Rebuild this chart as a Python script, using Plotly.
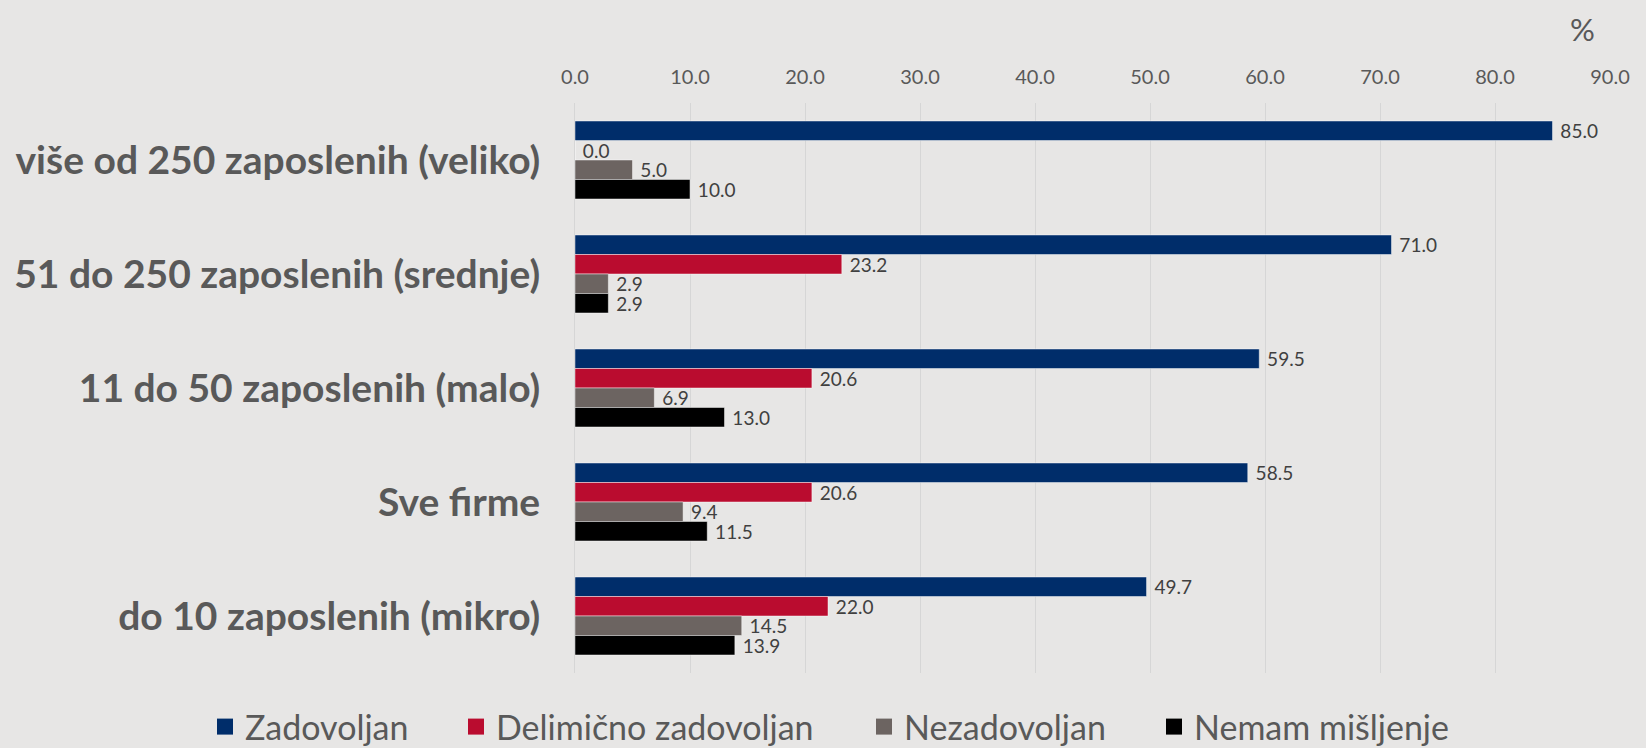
import plotly.graph_objects as go

# Company size groups, listed top to bottom
categories = [
    "više od 250 zaposlenih (veliko)",
    "51 do 250 zaposlenih (srednje)",
    "11 do 50 zaposlenih (malo)",
    "Sve firme",
    "do 10 zaposlenih (mikro)",
]

series_names = ["Zadovoljan", "Delimično zadovoljan", "Nezadovoljan", "Nemam mišljenje"]

zadovoljan = [85.0, 71.0, 59.5, 58.5, 49.7]
delimicno = [0.0, 23.2, 20.6, 20.6, 22.0]
nezadovoljan = [5.0, 2.9, 6.9, 9.4, 14.5]
nemam_misljenje = [10.0, 2.9, 13.0, 11.5, 13.9]

tick_values = [0, 10, 20, 30, 40, 50, 60, 70, 80, 90]

series_values = [zadovoljan, delimicno, nezadovoljan, nemam_misljenje]
colors = ["#002D6A", "#BA0C2F", "#6C6461", "#000000"]

BG = "#E7E6E5"
TEXT = "#595959"
FONT = "Lato"

W, H = 1646, 748
plot_left, plot_right = 575, 1610
plot_top, plot_bottom = 103, 673
plot_w = plot_right - plot_left
plot_h = plot_bottom - plot_top

# Left edge (px) of each legend entry along the bottom row
legend_left_px = [205, 456, 864, 1154]
legend_center_y_px = 727

fig = go.Figure()
for name, vals, col in zip(series_names, series_values, colors):
    fig.add_trace(go.Bar(
        y=categories,
        x=vals,
        name=name,
        orientation="h",
        showlegend=False,
        marker=dict(color=col, line=dict(color="rgba(255,255,255,0.45)", width=1)),
        text=[f"{v:.1f}" for v in vals],
        texttemplate=" %{text}",
        textposition="outside",
        constraintext="none",
        textfont=dict(family=FONT, size=19, color="#404040"),
        cliponaxis=False,
    ))

# One legend per series so each entry sits at its own spot
legend_layouts = {}
for i, (name, col) in enumerate(zip(series_names, colors)):
    key = "legend" if i == 0 else f"legend{i + 1}"
    fig.add_trace(go.Scatter(
        x=[None],
        y=[None],
        mode="markers",
        name=name,
        legend=key,
        marker=dict(symbol="square", size=16, color=col),
        showlegend=True,
    ))
    legend_layouts[key] = dict(
        orientation="h",
        x=(legend_left_px[i] - plot_left) / plot_w,
        xanchor="left",
        xref="paper",
        y=(plot_bottom - legend_center_y_px) / plot_h,
        yanchor="middle",
        yref="paper",
        font=dict(family=FONT, size=34, color=TEXT),
        bgcolor="rgba(0,0,0,0)",
        itemsizing="trace",
    )

fig.update_layout(
    width=W,
    height=H,
    barmode="group",
    bargap=0.316,
    bargroupgap=0,
    paper_bgcolor=BG,
    plot_bgcolor=BG,
    margin=dict(l=plot_left, r=W - plot_right, t=plot_top, b=H - plot_bottom,
                autoexpand=False),
    font=dict(family=FONT, color=TEXT),
    xaxis=dict(
        side="top",
        range=[0, 90],
        tickvals=tick_values,
        tickformat=".1f",
        tickfont=dict(family=FONT, size=20, color=TEXT),
        showgrid=True,
        gridcolor="#D6D6D6",
        gridwidth=1,
        zeroline=False,
        showline=False,
        ticks="",
        ticklabelstandoff=14,
    ),
    yaxis=dict(
        autorange="reversed",
        tickfont=dict(family=FONT, size=39, color=TEXT, weight="bold"),
        showgrid=False,
        zeroline=False,
        showline=True,
        linecolor="#D6D6D6",
        linewidth=1,
        ticks="",
        ticklabelstandoff=26,
    ),
    annotations=[
        dict(
            text="%",
            xref="paper",
            yref="paper",
            x=(1582 - plot_left) / plot_w,
            y=(plot_bottom - 29) / plot_h,
            xanchor="center",
            yanchor="middle",
            showarrow=False,
            font=dict(family=FONT, size=31, color=TEXT),
        )
    ],
    **legend_layouts,
)

fig.write_html("out.html")
